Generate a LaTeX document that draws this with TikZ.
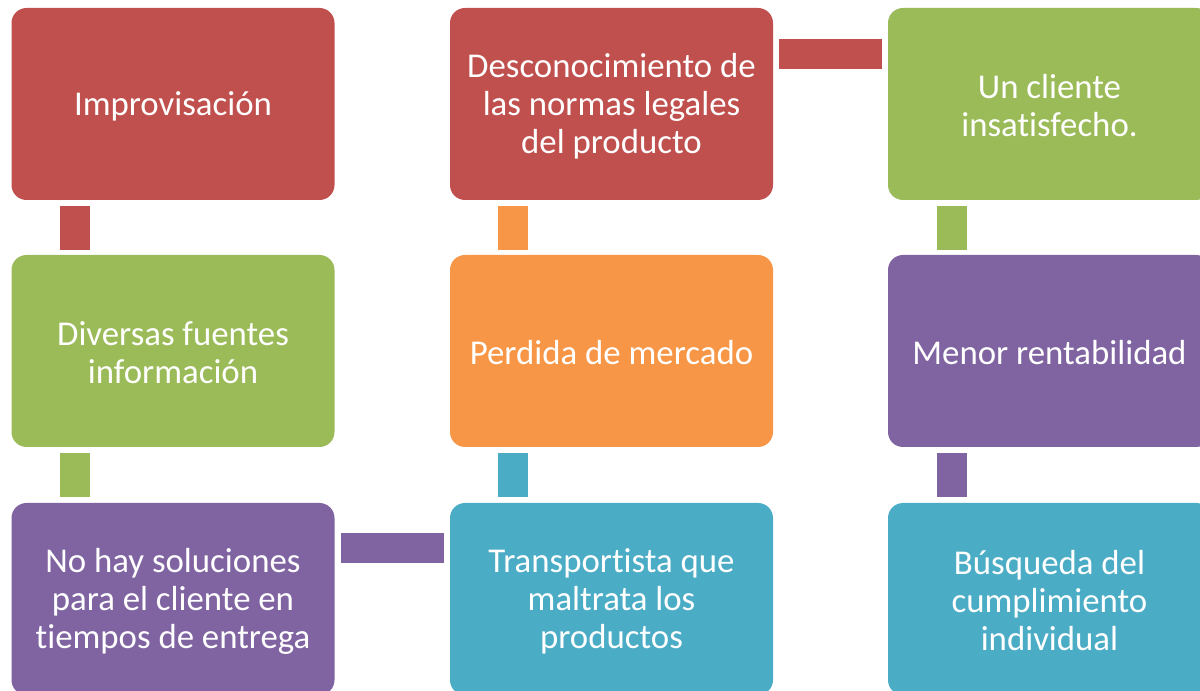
\documentclass[tikz,border=0pt]{standalone}
\usepackage{fontspec}
\setmainfont[Ligatures=NoCommon]{Carlito}
\definecolor{cred}{HTML}{C0504D}
\definecolor{cgreen}{HTML}{9BBB59}
\definecolor{corange}{HTML}{F79646}
\definecolor{cpurple}{HTML}{8064A2}
\definecolor{cblue}{HTML}{4BACC6}
\tikzset{
  box/.style={rectangle, rounded corners=15pt, minimum width=323pt, minimum height=192pt,
    inner sep=0pt},
  txt/.style={inner sep=0pt, text=white, align=center, font=\fontsize{34.8}{38}\selectfont},
  bar/.style={line width=30pt, line cap=butt, draw=#1}
}
\begin{document}
\begin{tikzpicture}[x=1pt,y=1pt]
\useasboundingbox (0,0) rectangle (1200,691);
\clip (0,0) rectangle (1200,691);
% row 1
\node[box, fill=cred] (imp) at (173,587) {};
\node[txt] (impt) at ([yshift=-2]imp.center) {Improvisación};
\node[box, fill=cred] (des) at (611.5,587) {};
\node[txt] (dest) at ([yshift=-2]des.center) {Desconocimiento de\\las normas legales\\del producto};
\node[box, fill=cgreen] (cli) at (1049.5,587) {};
\node[txt] (clit) at ([yshift=-2]cli.center) {Un cliente\\insatisfecho.};
% row 2
\node[box, fill=cgreen] (div) at (173,340) {};
\node[txt] (divt) at ([yshift=-2]div.center) {Diversas fuentes\\información};
\node[box, fill=corange] (per) at (611.5,340) {};
\node[txt] (pert) at ([yshift=-2]per.center) {Perdida de mercado};
\node[box, fill=cpurple] (men) at (1049.5,340) {};
\node[txt] (ment) at ([yshift=-2]men.center) {Menor rentabilidad};
% row 3
\node[box, fill=cpurple] (noh) at (173,92) {};
\node[txt] (noht) at ([yshift=-2]noh.center) {No hay soluciones\\para el cliente en\\tiempos de entrega};
\node[box, fill=cblue] (tra) at (611.5,92) {};
\node[txt] (trat) at ([yshift=-2]tra.center) {Transportista que\\maltrata los\\productos};
\node[box, fill=cblue] (bus) at (1049.5,92) {};
\node[txt] (bust) at ([yshift=-2]bus.center) {Búsqueda del\\cumplimiento\\individual};
% vertical connectors
\draw[bar=cred] ([shift={(64,-6)}]imp.south west) -- ([shift={(64,5)}]div.north west);
\draw[bar=cgreen] ([shift={(64,-6)}]div.south west) -- ([shift={(64,6)}]noh.north west);
\draw[bar=corange] ([shift={(63,-6)}]des.south west) -- ([shift={(63,5)}]per.north west);
\draw[bar=cblue] ([shift={(63,-6)}]per.south west) -- ([shift={(63,6)}]tra.north west);
\draw[bar=cgreen] ([shift={(64,-6)}]cli.south west) -- ([shift={(64,5)}]men.north west);
\draw[bar=cpurple] ([shift={(64,-6)}]men.south west) -- ([shift={(64,6)}]bus.north west);
% horizontal connectors
\draw[bar=cred] ([shift={(6,-46)}]des.north east) -- ([shift={(-6,-46)}]cli.north west);
\draw[bar=cpurple] ([shift={(6,-45)}]noh.north east) -- ([shift={(-6,-45)}]tra.north west);
\end{tikzpicture}
\end{document}
